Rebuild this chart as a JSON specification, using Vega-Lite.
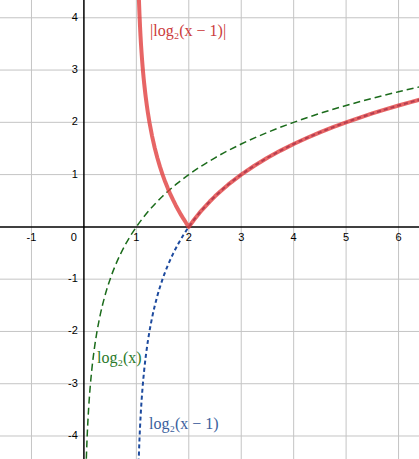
{
  "$schema": "https://vega.github.io/schema/vega-lite/v6.json",
  "width": 419,
  "height": 459,
  "padding": 0,
  "autosize": {"type": "none"},
  "background": "white",
  "config": {"view": {"stroke": null}},
  "datasets": {
    "log2x": [
      {"x": 0.04, "y": -4.644}, {"x": 0.046, "y": -4.442}, {"x": 0.05, "y": -4.322}, {"x": 0.06, "y": -4.059},
      {"x": 0.07, "y": -3.837}, {"x": 0.08, "y": -3.644}, {"x": 0.1, "y": -3.322}, {"x": 0.12, "y": -3.059},
      {"x": 0.15, "y": -2.737}, {"x": 0.2, "y": -2.322}, {"x": 0.25, "y": -2}, {"x": 0.3, "y": -1.737},
      {"x": 0.4, "y": -1.322}, {"x": 0.5, "y": -1}, {"x": 0.6, "y": -0.737}, {"x": 0.7, "y": -0.515},
      {"x": 0.8, "y": -0.322}, {"x": 0.9, "y": -0.152}, {"x": 1, "y": 0}, {"x": 1.25, "y": 0.322},
      {"x": 1.5, "y": 0.585}, {"x": 1.75, "y": 0.807}, {"x": 2, "y": 1}, {"x": 2.5, "y": 1.322},
      {"x": 3, "y": 1.585}, {"x": 3.5, "y": 1.807}, {"x": 4, "y": 2}, {"x": 4.5, "y": 2.17},
      {"x": 5, "y": 2.322}, {"x": 5.5, "y": 2.459}, {"x": 6, "y": 2.585}, {"x": 6.5, "y": 2.7}
    ],
    "log2xm1": [
      {"x": 1.04, "y": -4.644}, {"x": 1.046, "y": -4.442}, {"x": 1.05, "y": -4.322}, {"x": 1.06, "y": -4.059},
      {"x": 1.07, "y": -3.837}, {"x": 1.08, "y": -3.644}, {"x": 1.1, "y": -3.322}, {"x": 1.12, "y": -3.059},
      {"x": 1.15, "y": -2.737}, {"x": 1.2, "y": -2.322}, {"x": 1.25, "y": -2}, {"x": 1.3, "y": -1.737},
      {"x": 1.4, "y": -1.322}, {"x": 1.5, "y": -1}, {"x": 1.6, "y": -0.737}, {"x": 1.7, "y": -0.515},
      {"x": 1.8, "y": -0.322}, {"x": 1.9, "y": -0.152}, {"x": 2, "y": 0}, {"x": 2.25, "y": 0.322},
      {"x": 2.5, "y": 0.585}, {"x": 2.75, "y": 0.807}, {"x": 3, "y": 1}, {"x": 3.5, "y": 1.322},
      {"x": 4, "y": 1.585}, {"x": 4.5, "y": 1.807}, {"x": 5, "y": 2}, {"x": 5.5, "y": 2.17},
      {"x": 6, "y": 2.322}, {"x": 6.5, "y": 2.459}
    ],
    "abslog": [
      {"x": 1.04, "y": 4.644}, {"x": 1.046, "y": 4.442}, {"x": 1.05, "y": 4.322}, {"x": 1.06, "y": 4.059},
      {"x": 1.07, "y": 3.837}, {"x": 1.08, "y": 3.644}, {"x": 1.09, "y": 3.474}, {"x": 1.1, "y": 3.322},
      {"x": 1.11, "y": 3.184}, {"x": 1.12, "y": 3.059}, {"x": 1.13, "y": 2.943}, {"x": 1.14, "y": 2.837},
      {"x": 1.15, "y": 2.737}, {"x": 1.17, "y": 2.556}, {"x": 1.18, "y": 2.474}, {"x": 1.2, "y": 2.322},
      {"x": 1.22, "y": 2.184}, {"x": 1.25, "y": 2}, {"x": 1.3, "y": 1.737}, {"x": 1.35, "y": 1.515},
      {"x": 1.4, "y": 1.322}, {"x": 1.45, "y": 1.152}, {"x": 1.5, "y": 1}, {"x": 1.55, "y": 0.862},
      {"x": 1.6, "y": 0.737}, {"x": 1.65, "y": 0.621}, {"x": 1.7, "y": 0.515}, {"x": 1.75, "y": 0.415},
      {"x": 1.8, "y": 0.322}, {"x": 1.85, "y": 0.234}, {"x": 1.9, "y": 0.152}, {"x": 1.95, "y": 0.074},
      {"x": 2, "y": 0}, {"x": 2.1, "y": 0.1375}, {"x": 2.2, "y": 0.263}, {"x": 2.25, "y": 0.322},
      {"x": 2.4, "y": 0.485}, {"x": 2.5, "y": 0.585}, {"x": 2.6, "y": 0.678}, {"x": 2.75, "y": 0.807},
      {"x": 3, "y": 1}, {"x": 3.25, "y": 1.17}, {"x": 3.5, "y": 1.322}, {"x": 3.75, "y": 1.459},
      {"x": 4, "y": 1.585}, {"x": 4.25, "y": 1.7}, {"x": 4.5, "y": 1.807}, {"x": 4.75, "y": 1.907},
      {"x": 5, "y": 2}, {"x": 5.25, "y": 2.087}, {"x": 5.5, "y": 2.17}, {"x": 5.75, "y": 2.248},
      {"x": 6, "y": 2.322}, {"x": 6.25, "y": 2.392}, {"x": 6.5, "y": 2.459}
    ],
    "xticks": [
      {"v": -1, "t": "-1"}, {"v": 1, "t": "1"}, {"v": 2, "t": "2"}, {"v": 3, "t": "3"},
      {"v": 4, "t": "4"}, {"v": 5, "t": "5"}, {"v": 6, "t": "6"}
    ],
    "yticks": [
      {"v": -4, "t": "-4"}, {"v": -3, "t": "-3"}, {"v": -2, "t": "-2"}, {"v": -1, "t": "-1"},
      {"v": 1, "t": "1"}, {"v": 2, "t": "2"}, {"v": 3, "t": "3"}, {"v": 4, "t": "4"}
    ],
    "labels": [
      {"x": 1.26, "y": 3.75, "t": "|log₂(x − 1)|", "s": "abs"},
      {"x": 0.25, "y": -2.5, "t": "log₂(x)", "s": "g"},
      {"x": 1.24, "y": -3.77, "t": "log₂(x − 1)", "s": "b"}
    ]
  },
  "layer": [
    {
      "data": {"name": "xticks"},
      "mark": {"type": "rule", "color": "#c4c4c4", "strokeWidth": 1},
      "encoding": {
        "x": {"field": "v", "type": "quantitative", "scale": {"domain": [-1.6, 6.39], "nice": false, "zero": false}, "axis": null}
      }
    },
    {
      "data": {"name": "yticks"},
      "mark": {"type": "rule", "color": "#c4c4c4", "strokeWidth": 1},
      "encoding": {
        "y": {"field": "v", "type": "quantitative", "scale": {"domain": [-4.44, 4.34], "nice": false, "zero": false}, "axis": null}
      }
    },
    {
      "data": {"values": [{"v": 0}]},
      "mark": {"type": "rule", "color": "black", "strokeWidth": 1.5},
      "encoding": {"x": {"field": "v", "type": "quantitative"}}
    },
    {
      "data": {"values": [{"v": 0}]},
      "mark": {"type": "rule", "color": "black", "strokeWidth": 1.5},
      "encoding": {"y": {"field": "v", "type": "quantitative"}}
    },
    {
      "data": {"name": "xticks"},
      "mark": {"type": "text", "font": "Liberation Sans", "fontSize": 11, "align": "center", "baseline": "middle", "dy": 11, "color": "black"},
      "encoding": {
        "x": {"field": "v", "type": "quantitative"},
        "y": {"datum": 0, "type": "quantitative"},
        "text": {"field": "t"}
      }
    },
    {
      "data": {"values": [{"v": 0, "t": "0"}]},
      "mark": {"type": "text", "font": "Liberation Sans", "fontSize": 11, "align": "center", "baseline": "middle", "dy": 11, "dx": -10, "color": "black"},
      "encoding": {
        "x": {"field": "v", "type": "quantitative"},
        "y": {"field": "v", "type": "quantitative"},
        "text": {"field": "t"}
      }
    },
    {
      "data": {"name": "yticks"},
      "mark": {"type": "text", "font": "Liberation Sans", "fontSize": 11, "align": "right", "baseline": "middle", "dx": -6, "color": "black"},
      "encoding": {
        "x": {"datum": 0, "type": "quantitative"},
        "y": {"field": "v", "type": "quantitative"},
        "text": {"field": "t"}
      }
    },
    {
      "data": {"name": "log2x"},
      "mark": {"type": "line", "clip": true, "color": "#1b6b1b", "strokeWidth": 1.5, "strokeDash": [7, 4], "interpolate": "monotone"},
      "encoding": {
        "x": {"field": "x", "type": "quantitative"},
        "y": {"field": "y", "type": "quantitative"},
        "order": {"field": "x", "type": "quantitative"}
      }
    },
    {
      "data": {"name": "log2xm1"},
      "mark": {"type": "line", "clip": true, "color": "#1d4a9e", "strokeWidth": 2, "strokeDash": [4, 3], "interpolate": "monotone"},
      "encoding": {
        "x": {"field": "x", "type": "quantitative"},
        "y": {"field": "y", "type": "quantitative"},
        "order": {"field": "x", "type": "quantitative"}
      }
    },
    {
      "data": {"name": "abslog"},
      "mark": {"type": "line", "clip": true, "color": "#e03a3a", "strokeWidth": 4, "opacity": 0.78, "interpolate": "linear", "strokeJoin": "round"},
      "encoding": {
        "x": {"field": "x", "type": "quantitative"},
        "y": {"field": "y", "type": "quantitative"},
        "order": {"field": "x", "type": "quantitative"}
      }
    },
    {
      "data": {"name": "labels"},
      "mark": {"type": "text", "font": "Liberation Serif", "fontSize": 16, "align": "left", "baseline": "middle"},
      "encoding": {
        "x": {"field": "x", "type": "quantitative"},
        "y": {"field": "y", "type": "quantitative"},
        "text": {"field": "t"},
        "color": {"field": "s", "type": "nominal", "scale": {"domain": ["abs", "g", "b"], "range": ["#cc3b3b", "#2a7a2a", "#3a5e9c"]}, "legend": null}
      }
    }
  ]
}
